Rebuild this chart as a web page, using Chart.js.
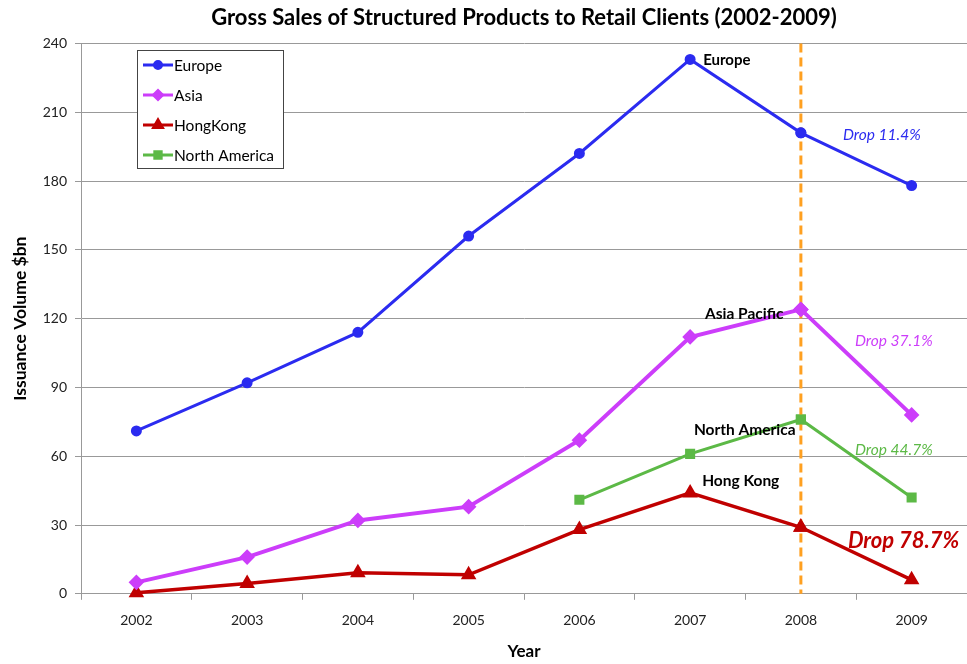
<!DOCTYPE html>
<html>
<head>
<meta charset="utf-8">
<script src="https://cdn.jsdelivr.net/npm/chart.js@4.4.0/dist/chart.umd.min.js"></script>
<style>
  html, body { margin: 0; padding: 0; background: #fff; }
  #wrap { width: 967px; height: 664px; }
</style>
</head>
<body>
<div id="wrap"><canvas id="myChart" width="967" height="664"></canvas></div>
<script>
var years = ["2002", "2003", "2004", "2005", "2006", "2007", "2008", "2009"];
var europe = [71, 92, 114, 156, 192, 233, 201, 178];
var asia = [5, 16, 32, 38, 67, 112, 124, 78];
var hongKong = [0.5, 4.5, 9.2, 8.3, 28, 44, 29, 6.1];
var northAmerica = [null, null, null, null, 41, 61, 76, 42];
var yTicks = [0, 30, 60, 90, 120, 150, 180, 210, 240];

var FONT = "Lato, 'Open Sans', sans-serif";
var TITLE = "Gross Sales of Structured Products to Retail Clients (2002-2009)";

// text labels placed at data points (year index, value, x/y pixel nudge)
var notes = [
  { text: "Europe", i: 5, v: 233, dx: 13, dy: 1, color: "#000", font: "bold 15px " + FONT },
  { text: "Asia Pacific", i: 6, v: 124, dx: -96, dy: 5, color: "#000", font: "bold 15.5px " + FONT },
  { text: "North America", i: 6, v: 76, dx: -107, dy: 10, color: "#000", font: "bold 15.5px " + FONT },
  { text: "Hong Kong", i: 5, v: 44, dx: 12, dy: -12, color: "#000", font: "bold 15.5px " + FONT },
  { text: "Drop 11.4%", i: 6, v: 201, dx: 42, dy: 2, color: "#2b2bf0", font: "italic 15.5px " + FONT },
  { text: "Drop 37.1%", i: 6, v: 124, dx: 54, dy: 32, color: "#cc3dfa", font: "italic 15.5px " + FONT },
  { text: "Drop 44.7%", i: 6, v: 76, dx: 54, dy: 30, color: "#5cb946", font: "italic 15.5px " + FONT },
  { text: "Drop 78.7%", i: 6, v: 29, dx: 47, dy: 14, color: "#c00000", font: "bold italic 22px " + FONT }
];

var overlay = {
  id: "overlay",
  afterDatasetsDraw: function (chart) {
    var c = chart.ctx, xs = chart.scales.x, a = chart.chartArea;
    // dashed 2008 marker
    var x8 = xs.getPixelForValue(6);
    c.save();
    c.strokeStyle = "#ffa020";
    c.lineWidth = 3;
    c.setLineDash([9, 5]);
    c.beginPath();
    c.moveTo(x8, a.top);
    c.lineTo(x8, a.bottom);
    c.stroke();
    c.restore();
    // redraw the 2008 points over the dashed line
    chart.data.datasets.forEach(function (ds, k) {
      var el = chart.getDatasetMeta(k).data[6];
      if (el && !el.skip) el.draw(c);
    });
  },
  afterDraw: function (chart) {
    var c = chart.ctx, xs = chart.scales.x, ys = chart.scales.y, a = chart.chartArea;
    c.save();
    // title centred over the plot area
    c.font = "bold 22px " + FONT;
    c.fillStyle = "#000";
    c.textAlign = "center";
    c.textBaseline = "middle";
    c.fillText(TITLE, (a.left + a.right) / 2, 18);
    c.textAlign = "left";
    notes.forEach(function (n) {
      c.font = n.font;
      c.fillStyle = n.color;
      c.fillText(n.text, xs.getPixelForValue(n.i) + n.dx, ys.getPixelForValue(n.v) + n.dy);
    });
    // legend box
    var lx = 137, ly = 50, lw = 146, lh = 118;
    c.fillStyle = "#fff";
    c.fillRect(lx, ly, lw, lh);
    c.strokeStyle = "#444";
    c.lineWidth = 1;
    c.strokeRect(lx + 0.5, ly + 0.5, lw, lh);
    c.font = "15.5px " + FONT;
    chart.data.datasets.forEach(function (ds, k) {
      var y = ly + 15 + k * 30;
      c.strokeStyle = ds.borderColor;
      c.lineWidth = 3;
      c.beginPath();
      c.moveTo(lx + 6, y);
      c.lineTo(lx + 36, y);
      c.stroke();
      c.fillStyle = ds.borderColor;
      Chart.helpers.drawPoint(c, {
        pointStyle: ds.pointStyle, radius: ds.pointRadius - 0.5, rotation: 0, borderWidth: 1
      }, lx + 21, y);
      c.fillStyle = "#000";
      c.fillText(ds.label, lx + 37, y + 1);
    });
    c.restore();
  }
};

function series(label, data, color, style, radius, width) {
  return {
    label: label,
    data: data,
    borderColor: color,
    backgroundColor: color,
    pointBackgroundColor: color,
    pointBorderColor: color,
    pointStyle: style,
    pointRadius: radius,
    pointHoverRadius: radius,
    borderWidth: width,
    tension: 0,
    spanGaps: false,
    clip: false
  };
}

new Chart(document.getElementById("myChart"), {
  type: "line",
  data: {
    labels: years,
    datasets: [
      series("Europe", europe, "#2b2bf0", "circle", 4, 3),
      series("Asia", asia, "#cc3dfa", "rectRot", 5, 4),
      series("HongKong", hongKong, "#c00000", "triangle", 5.5, 3.5),
      series("North America", northAmerica, "#5cb946", "rect", 5, 3)
    ]
  },
  options: {
    responsive: false,
    animation: false,
    layout: { autoPadding: false, padding: { left: 6, right: -5, top: 0, bottom: 2 } },
    plugins: {
      legend: { display: false },
      tooltip: { enabled: false },
      title: {
        // keeps the space; text itself is drawn by the overlay plugin
        display: true,
        text: TITLE,
        color: "rgba(0,0,0,0)",
        font: { family: FONT, size: 22, weight: "bold" },
        padding: { top: 5, bottom: 12 }
      }
    },
    scales: {
      x: {
        type: "category",
        offset: true,
        border: { color: "#999", width: 1 },
        grid: { display: true, drawOnChartArea: false, drawTicks: true, tickLength: 6, color: "#999", offset: true },
        ticks: { color: "#222", font: { family: FONT, size: 14 }, padding: 12, maxRotation: 0 },
        title: { display: true, text: "Year", color: "#000", font: { family: FONT, size: 17, weight: "bold" }, padding: { top: 1, bottom: 0 } }
      },
      y: {
        min: 0,
        max: 240,
        afterBuildTicks: function (s) { s.ticks = yTicks.map(function (v) { return { value: v }; }); },
        afterFit: function (s) { s.width = 75; },
        border: { color: "#999", width: 1 },
        grid: { color: "#999", lineWidth: 1, tickLength: 6 },
        ticks: { color: "#222", font: { family: FONT, size: 14 }, padding: 8 },
        title: { display: true, text: "Issuance Volume $bn", color: "#000", font: { family: FONT, size: 17.5, weight: "bold" }, padding: { bottom: 4 } }
      }
    }
  },
  plugins: [overlay]
});
</script>
</body>
</html>
